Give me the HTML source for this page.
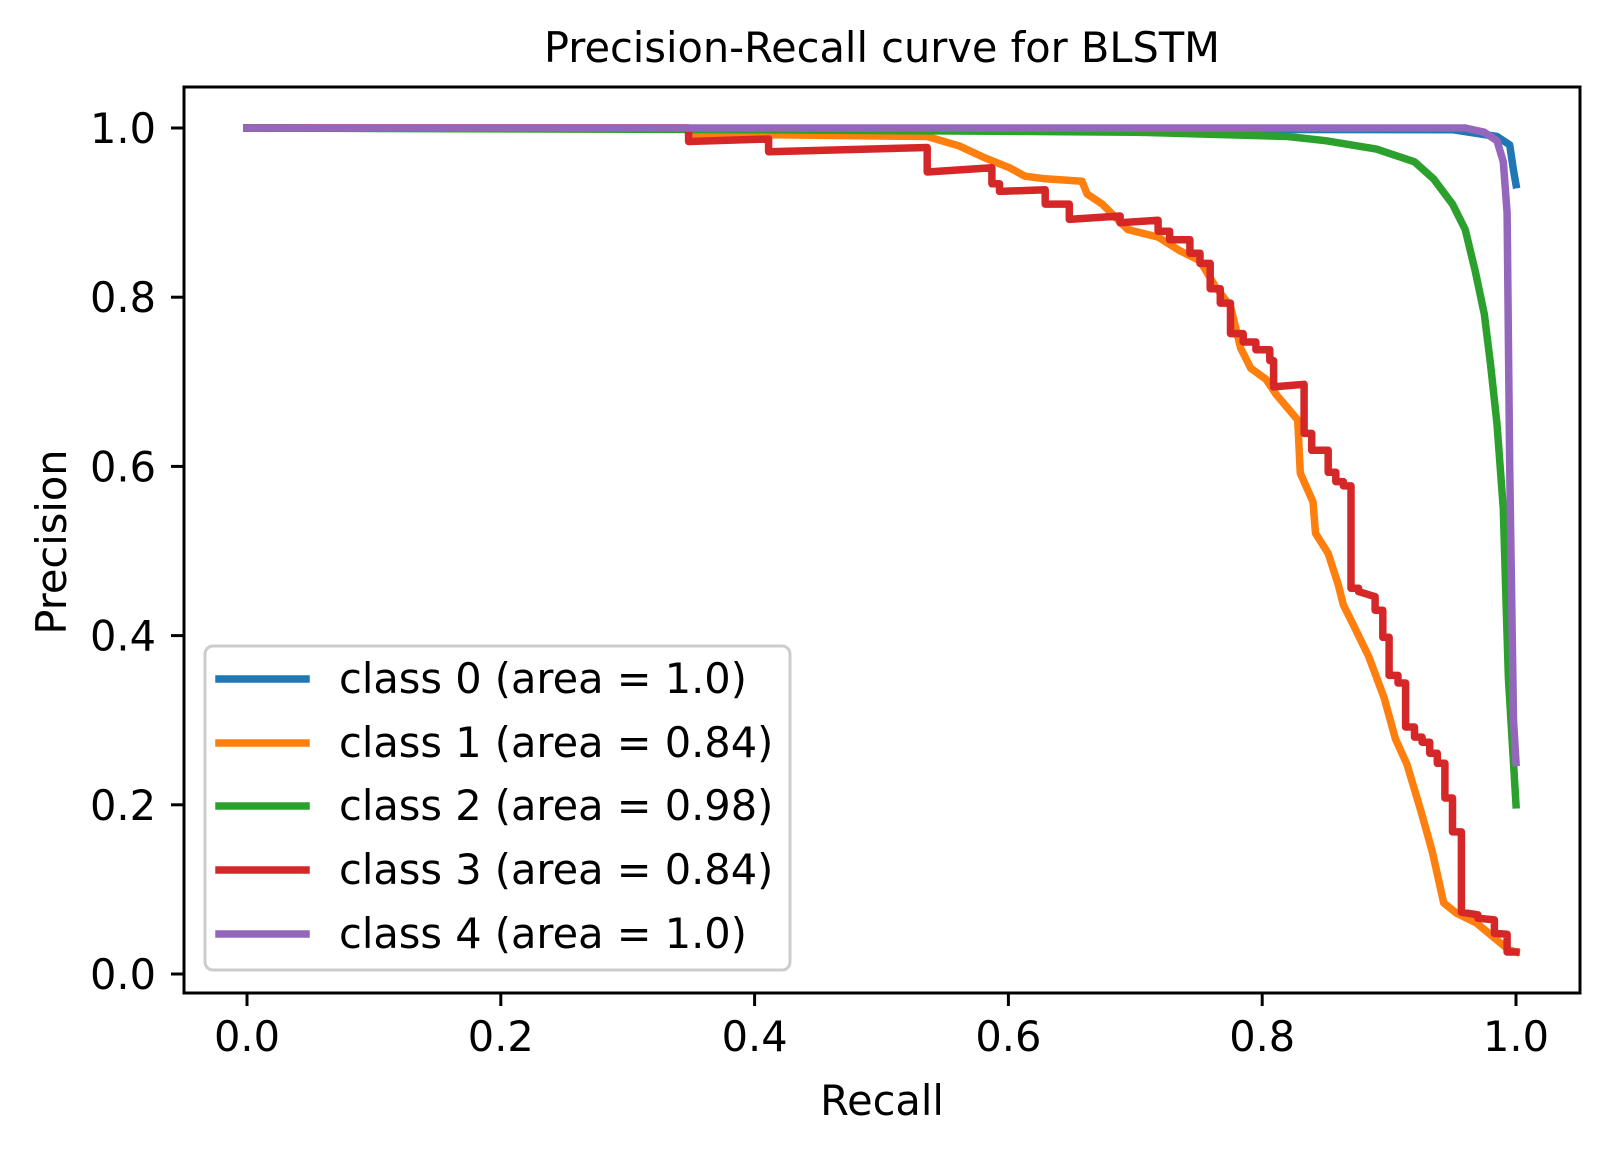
<!DOCTYPE html>
<html><head><meta charset="utf-8"><style>
html,body{margin:0;padding:0;background:#fff;}
svg{display:block;font-family:"DejaVu Sans","Liberation Sans",sans-serif;}
</style></head><body>
<svg id="chart" width="1609" height="1153" viewBox="0 0 1609 1153">
<text x="882" y="62" font-size="41.5" text-anchor="middle">Precision-Recall curve for BLSTM</text>
<g id="series"></g>
<rect x="184" y="87" width="1396" height="906" fill="none" stroke="#000" stroke-width="3"/>
<g id="xticks"></g>
<g id="yticks"></g>
<text x="882" y="1115" font-size="41.5" text-anchor="middle">Recall</text>
<text transform="translate(66,542) rotate(-90)" font-size="41.5" text-anchor="middle">Precision</text>
<g id="legend">
<rect x="205" y="646" width="585" height="324" rx="8" fill="#fff" fill-opacity="0.8" stroke="#ccc" stroke-width="3"/>
</g>
</svg>
<script>
const xTicks = [0, 0.2, 0.4, 0.6, 0.8, 1.0];
const yTicks = [0, 0.2, 0.4, 0.6, 0.8, 1.0];
const classNames = ["class 0 (area = 1.0)","class 1 (area = 0.84)","class 2 (area = 0.98)","class 3 (area = 0.84)","class 4 (area = 1.0)"];
const colors = ["#1f77b4","#ff7f0e","#2ca02c","#d62728","#9467bd"];
const recall0 = [0,0.95,0.985,0.995,0.998,1.0];
const precision0 = [1.0,0.998,0.99,0.98,0.95,0.933];
const recall1 = [0,0.345,0.35,0.536,0.561,0.581,0.601,0.613,0.629,0.658,0.662,0.674,0.686,0.694,0.718,0.735,0.751,0.763,0.775,0.783,0.791,0.803,0.811,0.828,0.830,0.840,0.842,0.852,0.860,0.864,0.872,0.884,0.896,0.905,0.914,0.925,0.934,0.943,0.953,0.969,0.981,0.994,1.0];
const precision1 = [1.0,1.0,0.993,0.99,0.979,0.965,0.953,0.943,0.940,0.937,0.922,0.910,0.892,0.880,0.871,0.855,0.843,0.813,0.789,0.740,0.716,0.703,0.685,0.655,0.592,0.558,0.521,0.497,0.460,0.436,0.412,0.375,0.327,0.278,0.248,0.193,0.145,0.084,0.072,0.060,0.045,0.029,0.026];
const recall2 = [0,0.4,0.7,0.82,0.85,0.89,0.92,0.935,0.95,0.96,0.968,0.975,0.98,0.985,0.99,0.992,0.994,1.0];
const precision2 = [1.0,0.998,0.995,0.99,0.985,0.975,0.96,0.94,0.91,0.88,0.83,0.78,0.72,0.65,0.55,0.45,0.35,0.2];
const recall3 = [0,0.348,0.411,0.536,0.587,0.593,0.629,0.648,0.688,0.718,0.727,0.743,0.751,0.759,0.767,0.775,0.785,0.795,0.806,0.809,0.833,0.839,0.852,0.858,0.864,0.870,0.876,0.889,0.895,0.900,0.907,0.913,0.920,0.926,0.932,0.938,0.944,0.950,0.957,0.970,0.983,0.993,1.0];
const precision3 = [1.0,0.984,0.972,0.948,0.934,0.925,0.910,0.892,0.888,0.878,0.868,0.852,0.840,0.810,0.793,0.757,0.747,0.738,0.725,0.694,0.639,0.619,0.593,0.582,0.577,0.456,0.452,0.430,0.398,0.353,0.344,0.292,0.280,0.274,0.261,0.249,0.208,0.168,0.073,0.066,0.048,0.026,0.026];
const prevTop3 = [1.0,1.0,0.987,0.977,0.953,0.934,0.927,0.910,0.896,0.891,0.878,0.868,0.852,0.840,0.810,0.793,0.757,0.747,0.738,0.725,0.697,0.639,0.619,0.593,0.582,0.577,0.456,0.446,0.430,0.398,0.353,0.344,0.292,0.280,0.274,0.261,0.249,0.208,0.168,0.070,0.064,0.047,0.026];
const recall4 = [0,0.96,0.975,0.985,0.99,0.993,0.995,0.998,1.0];
const precision4 = [1.0,1.0,0.995,0.985,0.96,0.9,0.6,0.3,0.25];

const X0=247, X1=1516, Y0=974, Y1=128;
function xs(v){return X0+(X1-X0)*v;}
function ys(v){return Y0-(Y0-Y1)*v;}
const NS="http://www.w3.org/2000/svg";
function mk(tag, attrs, parent){const e=document.createElementNS(NS,tag);for(const k in attrs)e.setAttribute(k,attrs[k]);parent.appendChild(e);return e;}

const xg=document.getElementById('xticks');
xTicks.forEach(t=>{
  const l=mk('line',{x1:xs(t),x2:xs(t),y1:993,y2:1006,stroke:'#000','stroke-width':3},xg);
  
  
  const tx=mk('text',{x:xs(t),y:1051,'font-size':41.5,'text-anchor':'middle'},xg);
  tx.textContent=t.toFixed(1);
  
  
});
const yg=document.getElementById('yticks');
yTicks.forEach(t=>{
  const l=mk('line',{x1:171,x2:184,y1:ys(t),y2:ys(t),stroke:'#000','stroke-width':3},yg);
  
  
  const tx=mk('text',{x:156,y:ys(t)+15,'font-size':41.5,'text-anchor':'end'},yg);
  tx.textContent=t.toFixed(1);
  
  
});

const sg=document.getElementById('series');
function linePath(r,p){return r.map((v,i)=>(i?'L':'M')+xs(v).toFixed(1)+','+ys(p[i]).toFixed(1)).join(' ');}
function stepPath(r,p){
  let d='M'+xs(r[0]).toFixed(1)+','+ys(p[0]).toFixed(1);
  for(let i=1;i<r.length;i++){
    d+=' L'+xs(r[i]).toFixed(1)+','+ys(prevTop3[i]).toFixed(1);
    d+=' L'+xs(r[i]).toFixed(1)+','+ys(p[i]).toFixed(1);
  }
  return d;
}
const paths=[linePath(recall0,precision0),linePath(recall1,precision1),linePath(recall2,precision2),stepPath(recall3,precision3),linePath(recall4,precision4)];
const seriesNames=['series-class-0','series-class-1','series-class-2','series-class-3','series-class-4'];
paths.forEach((d,i)=>{
  const p=mk('path',{d:d,fill:'none',stroke:colors[i],'stroke-width':7.5,'stroke-linejoin':'round','stroke-linecap':'square'},sg);
  
  
});

const lg=document.getElementById('legend');
const rows=[679,743,806,870,934];
classNames.forEach((n,i)=>{
  const l=mk('line',{x1:219,x2:306,y1:rows[i],y2:rows[i],stroke:colors[i],'stroke-width':7.5,'stroke-linecap':'square'},lg);
  
  
  const t=mk('text',{x:339,y:rows[i]+14,'font-size':41.5},lg);
  t.textContent=n;
  
  
});
</script>
</body></html>
